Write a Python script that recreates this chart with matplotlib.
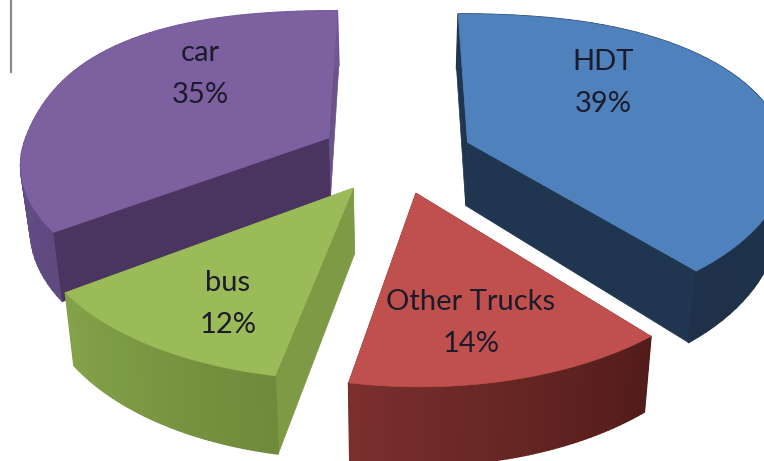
import numpy as np
import matplotlib
matplotlib.use("Agg")
import matplotlib.pyplot as plt
from matplotlib.collections import PolyCollection
from matplotlib.colors import to_rgb
from matplotlib.patches import Polygon

# Shares of each vehicle class, clockwise from twelve o'clock
categories = ["HDT", "Other Trucks", "bus", "car"]
shares = [39, 14, 12, 35]

# Slice styling: top face, rim at slice start, rim at slice end, cut faces
top_colors = ["#4f81bd", "#c0504d", "#9bbb59", "#7d60a0"]
rim_start = ["#20364f", "#521c1a", "#6f8a3b", "#5f4a80"]
rim_end = ["#1e3149", "#7a2f2d", "#84a249", "#715796"]
start_face = ["#1f3550", "#521c1a", "#7f9a45", "#4a3560"]
end_face = ["#1f3550", "#7a2f2d", "#7f9a45", "#6a5389"]
explode = [0.25, 0.25, 0.25, 0.25]

# Label anchors in figure pixels
label_xy = [(603, 83), (471, 323), (228, 304), (200, 74)]

# Projection of the pie plane to the canvas
X0, Y0 = 396.0, 155.0
RX, RY = 308.0, 151.4
PERSP = 0.152
DEPTH = 64.0
CONVERGE = 0.026
BACK_BULGE = 0.06
RIGHT_BULGE = 0.05


def project(u, v, lowered=False):
    w = 1 + PERSP * v
    x = X0 + RX * u / w
    y = Y0 - RY * v / w
    if lowered:
        x = X0 + (x - X0) * (1 - CONVERGE)
        y = y + DEPTH / w
    return np.column_stack([x, y])


fig = plt.figure(figsize=(7.64, 4.61), dpi=100)
ax = fig.add_axes([0, 0, 1, 1])
ax.set_xlim(0, 764)
ax.set_ylim(461, 0)
ax.axis("off")

edges = np.cumsum([0] + shares) / np.sum(shares) * 2 * np.pi


def draw_slice(i):
    a0, a1 = edges[i], edges[i + 1]
    mid = (a0 + a1) / 2
    cu, cv = explode[i] * np.sin(mid), explode[i] * np.cos(mid)
    t = np.linspace(a0, a1, 60)
    # The far half of the rim and its right flank are fuller than a true circle
    r = 1 + BACK_BULGE * np.sin(2 * t) ** 2 * (np.cos(t) > 0)
    r = r + RIGHT_BULGE * np.exp(-((t - np.radians(80)) / np.radians(30)) ** 2)
    u, v = cu + r * np.sin(t), cv + r * np.cos(t)
    apex_top = project(np.array([cu]), np.array([cv]))
    apex_low = project(np.array([cu]), np.array([cv]), True)
    arc_top = project(u, v)
    arc_low = project(u, v, True)

    for idx, col in ((0, start_face[i]), (-1, end_face[i])):
        quad = np.vstack([apex_top, arc_top[idx], arc_low[idx], apex_low])
        ax.add_patch(Polygon(quad, closed=True, facecolor=col, edgecolor=col, lw=0.5))

    c0, c1 = np.array(to_rgb(rim_start[i])), np.array(to_rgb(rim_end[i]))
    quads, cols = [], []
    for k in range(len(t) - 1):
        quads.append([arc_top[k], arc_top[k + 1], arc_low[k + 1], arc_low[k]])
        cols.append(c0 + (c1 - c0) * k / (len(t) - 2))
    ax.add_collection(PolyCollection(quads, facecolors=cols, edgecolors=cols, linewidths=1.2))

    # Cut face on the viewer's side goes over the rim
    if i == 3:
        quad = np.vstack([apex_top, arc_top[0], arc_low[0], apex_low])
        ax.add_patch(Polygon(quad, closed=True, facecolor=start_face[i],
                             edgecolor=start_face[i], lw=0.5))

    face = np.vstack([apex_top, arc_top])
    ax.add_patch(Polygon(face, closed=True, facecolor=top_colors[i],
                         edgecolor=top_colors[i], lw=0.5))


# Back slices first so the front ones overlap them
for i in (3, 0, 1, 2):
    draw_slice(i)

for name, share, (x, y) in zip(categories, shares, label_xy):
    ax.text(x, y, f"{name}\n{share}%", ha="center", va="center", fontsize=21,
            family="Lato", color="#1b1b2b", linespacing=1.75)

# Short rule in the top-left corner
ax.plot([10.5, 10.5], [0, 73], color="#8c8c8c", lw=1.6, solid_capstyle="butt")

fig.savefig("out.png", dpi=100)
